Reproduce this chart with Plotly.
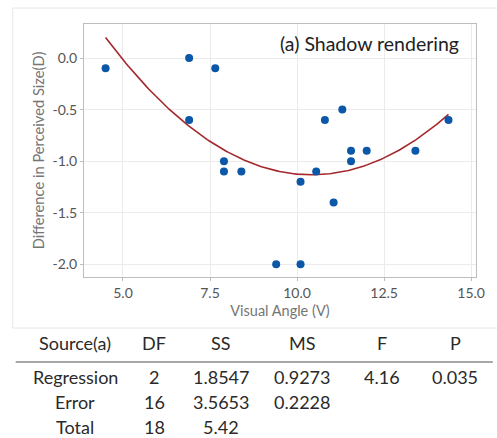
import numpy as np
import plotly.graph_objects as go

# Data
visual_angle = [4.5, 6.9, 7.65, 6.9, 7.9, 7.9, 8.4, 9.4, 10.1, 10.1, 10.55, 11.05,
                10.8, 11.3, 11.55, 11.55, 12.0, 13.4, 14.35]
diff_size = [-0.1, 0.0, -0.1, -0.6, -1.0, -1.1, -1.1, -2.0, -2.0, -1.2, -1.1, -1.4,
             -0.6, -0.5, -0.9, -1.0, -0.9, -0.9, -0.6]

panel_label = "(a) Shadow rendering"
x_title = "Visual Angle (V)"
y_title = "Difference in Perceived Size(D)"
x_ticks = [5.0, 7.5, 10.0, 12.5, 15.0]
y_ticks = [0.0, -0.5, -1.0, -1.5, -2.0]

table_header = ["Source(a)", "DF", "SS", "MS", "F", "P"]
table_rows = [
    ["Regression", "2", "1.8547", "0.9273", "4.16", "0.035"],
    ["Error", "16", "3.5653", "0.2228", "", ""],
    ["Total", "18", "5.42", "", "", ""],
]

# Quadratic regression fit from the data
coef = np.polyfit(visual_angle, diff_size, 2)
xf = np.linspace(min(visual_angle), max(visual_angle), 200)
yf = np.polyval(coef, xf)

W, H = 497, 438
L, R, T, B = 84, 17, 24, 161
pw, ph = W - L - R, H - T - B

def px_x(px):
    return (px - L) / pw

def px_y(py):
    return (H - B - py) / ph

FONT = "Lato"

fig = go.Figure()
fig.add_trace(go.Scatter(x=xf, y=yf, mode="lines",
                         line=dict(color="#A3282B", width=1.6),
                         hoverinfo="skip", showlegend=False))
fig.add_trace(go.Scatter(x=visual_angle, y=diff_size, mode="markers",
                         marker=dict(color="#0B57A8", size=8),
                         showlegend=False))

axis_common = dict(showgrid=True, gridcolor="#EBEBEB", gridwidth=1,
                   zeroline=False, showline=True, linecolor="#BDBDBD", linewidth=1,
                   mirror=True, ticks="outside", ticklen=3, tickcolor="#BDBDBD",
                   tickfont=dict(family=FONT, size=14, color="#555555"))

fig.update_xaxes(range=[3.88, 15.14], tickvals=x_ticks,
                 ticktext=[f"{v:.1f}" for v in x_ticks],
                 title=dict(text=x_title, font=dict(family=FONT, size=14.5, color="#757575"),
                            standoff=6),
                 **axis_common)
fig.update_yaxes(range=[-2.123, 0.33], tickvals=y_ticks,
                 ticktext=[f"{v:.1f}" for v in y_ticks],
                 title=dict(text=y_title, font=dict(family=FONT, size=14.7, color="#757575"),
                            standoff=4),
                 **axis_common)

annotations = [dict(text=panel_label, xref="paper", yref="paper",
                    x=px_x(465), y=px_y(43), xanchor="right", yanchor="middle",
                    showarrow=False, font=dict(family=FONT, size=19.5, color="#222222"))]

col_x = [75, 155, 222, 304, 385, 459]
row_y = [343, 377, 402, 427]
for ci, txt in enumerate(table_header):
    annotations.append(dict(text=txt, xref="paper", yref="paper", x=px_x(col_x[ci]),
                            y=px_y(row_y[0]), xanchor="center", yanchor="middle",
                            showarrow=False, font=dict(family=FONT, size=18, color="#2A2A2A")))
for ri, row in enumerate(table_rows):
    for ci, txt in enumerate(row):
        if txt:
            annotations.append(dict(text=txt, xref="paper", yref="paper", x=px_x(col_x[ci]),
                                    y=px_y(row_y[ri + 1]), xanchor="center", yanchor="middle",
                                    showarrow=False,
                                    font=dict(family=FONT, size=18, color="#2A2A2A")))

shapes = [
    dict(type="rect", xref="paper", yref="paper", x0=px_x(12), x1=px_x(520),
         y0=px_y(328), y1=px_y(8), line=dict(color="#E6E6E6", width=1), layer="below"),
    dict(type="line", xref="paper", yref="paper", x0=px_x(15), x1=px_x(497),
         y0=px_y(362), y1=px_y(362), line=dict(color="#8A8A8A", width=1.5)),
]

fig.update_layout(width=W, height=H, margin=dict(l=L, r=R, t=T, b=B),
                  paper_bgcolor="white", plot_bgcolor="white",
                  annotations=annotations, shapes=shapes,
                  font=dict(family=FONT))

fig.write_html("out.html", config={"displayModeBar": False},
               post_script="document.body.style.margin='0';document.body.style.padding='0';"
                           "document.body.style.overflow='hidden';")
